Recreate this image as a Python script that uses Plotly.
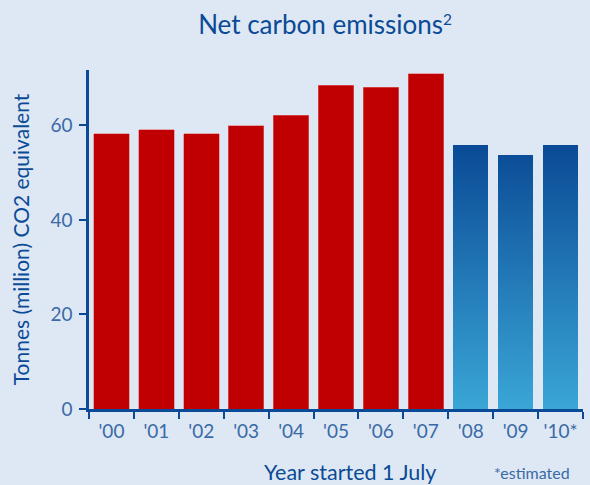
import plotly.graph_objects as go

years = ["'00", "'01", "'02", "'03", "'04", "'05", "'06", "'07", "'08", "'09", "'10*"]
actual_years = years[:8]
actual_values = [58.2, 59.1, 58.2, 59.9, 62.1, 68.5, 68.1, 70.9]
forecast_years = years[8:]
forecast_values = [55.7, 53.6, 55.7]
y_ticks = [0, 20, 40, 60]

BG = "#dde8f4"
DARK = "#0b4a96"
TICKC = "#3a6aa6"
RED = "#c00000"
FONT = "Lato, 'Noto Sans', sans-serif"

LIGHT_RGB = (58, 166, 214)
DARK_RGB = (10, 74, 150)
GRAD_TOP = 56.0

def grad_color(v):
    t = max(0.0, min(1.0, v / GRAD_TOP))
    c = [round(LIGHT_RGB[i] + (DARK_RGB[i] - LIGHT_RGB[i]) * t) for i in range(3)]
    return f"rgb({c[0]},{c[1]},{c[2]})"

fig = go.Figure()
fig.add_trace(go.Bar(
    x=actual_years, y=actual_values,
    marker=dict(color=RED, line=dict(color="rgba(225,110,110,0.7)", width=0.8)),
    hoverinfo="x+y", showlegend=False,
))

# gradient-filled forecast bars: stacked slices of each data value
step = 0.5
n_levels = int(max(forecast_values) / step) + 1
for k in range(n_levels):
    lo = k * step
    seg = [max(0.0, min(step, v - lo)) for v in forecast_values]
    if not any(s > 0 for s in seg):
        continue
    fig.add_trace(go.Bar(
        x=forecast_years, y=seg,
        marker=dict(color=grad_color(lo + step / 2), line=dict(width=0)),
        hoverinfo="skip", showlegend=False,
    ))

fig.update_layout(
    width=590, height=485,
    paper_bgcolor=BG, plot_bgcolor=BG,
    barmode="stack", bargap=0.21,
    margin=dict(l=89, r=7, t=70, b=76),
    font=dict(family=FONT, color=DARK),
    title=dict(text="Net carbon emissions<span style='font-size:22px'><sup>2</sup></span>",
               x=0.551, xanchor="center",
               y=0.948, yanchor="middle", font=dict(size=26, color=DARK, family=FONT)),
    xaxis=dict(
        categoryorder="array", categoryarray=years,
        showline=True, linecolor=DARK, linewidth=2.5,
        ticks="outside", tickson="boundaries", ticklen=7, tickwidth=2, tickcolor=DARK,
        tickfont=dict(size=19, color=TICKC, family=FONT), ticklabelstandoff=3,
        showgrid=False, zeroline=False,
    ),
    yaxis=dict(
        range=[0, 71.7], tickvals=y_ticks,
        showline=True, linecolor=DARK, linewidth=2.5,
        ticks="outside", ticklen=7, tickwidth=2, tickcolor=DARK,
        tickfont=dict(size=19, color=TICKC, family=FONT), ticklabelstandoff=3,
        title=dict(text="Tonnes (million) CO2 equivalent", font=dict(size=21, color=DARK, family=FONT), standoff=16),
        showgrid=False, zeroline=False,
    ),
    annotations=[
        dict(text="Year started 1 July", xref="paper", yref="paper", x=0.528, y=-0.186,
             xanchor="center", yanchor="middle", showarrow=False,
             font=dict(size=21.5, color=DARK, family=FONT)),
        dict(text="*estimated", xref="paper", yref="paper", x=0.978, y=-0.186,
             xanchor="right", yanchor="middle", showarrow=False,
             font=dict(size=16, color=TICKC, family=FONT)),
    ],
)

fig.write_html(
    "out.html",
    config={"displayModeBar": False},
    post_script="document.body.style.margin='0';document.body.style.background='#dde8f4';",
)
